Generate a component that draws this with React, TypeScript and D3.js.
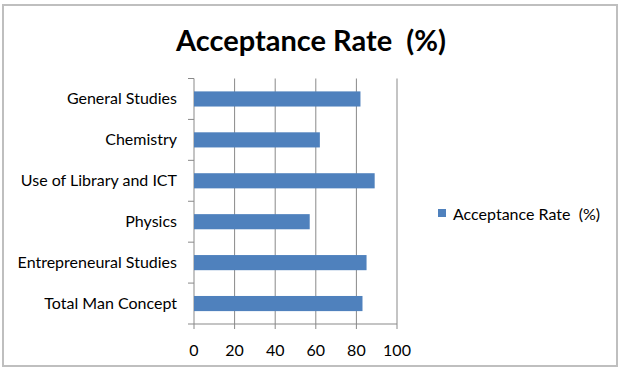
import * as d3 from 'd3';

const categories = [
  'General Studies',
  'Chemistry',
  'Use of Library and ICT',
  'Physics',
  'Entrepreneural Studies',
  'Total Man Concept',
];
const acceptanceRate = [82, 62, 89, 57, 85, 83];
const xTicks = [0, 20, 40, 60, 80, 100];
const seriesName = 'Acceptance Rate  (%)';

const width = 624;
const height = 370;
const margins = { top: 78.5, right: 227, bottom: 46, left: 194 };
const barColor = '#4f81bd';
const gridColor = '#898989';
const font = 'Lato, Carlito, Calibri, sans-serif';

const App = () => {
  const xScale = d3
    .scaleLinear()
    .domain([0, 100])
    .range([margins.left, width - margins.right]);
  const yScale = d3
    .scaleBand<string>()
    .domain(categories)
    .range([margins.top, height - margins.bottom])
    .paddingInner(0.63)
    .paddingOuter(0.315);
  const slot = d3
    .scaleBand<string>()
    .domain(categories)
    .range([margins.top, height - margins.bottom]);

  const plotBottom = height - margins.bottom;

  return (
    <svg
      width={width}
      height={height}
      viewBox={`0 0 ${width} ${height}`}
      style={{ position: 'absolute', left: 0, top: 0, background: '#fff' }}
    >
      <rect x={3} y={5} width={614} height={361} fill="#fff" stroke="#bfbfbf" strokeWidth={2} />
      <text
        x={311}
        y={51}
        textAnchor="middle"
        fontFamily={font}
        fontWeight="bold"
        fontSize={29}
        textLength={270}
        lengthAdjust="spacingAndGlyphs"
        fill="#000"
        style={{ whiteSpace: 'pre' }}
      >
        {seriesName}
      </text>

      {/* vertical gridlines */}
      {xTicks.map(t => (
        <line
          key={`g${t}`}
          x1={xScale(t)}
          x2={xScale(t)}
          y1={margins.top}
          y2={plotBottom + 5}
          stroke={gridColor}
          strokeWidth={1}
        />
      ))}
      {/* bottom axis */}
      <line x1={margins.left} x2={xScale(100)} y1={plotBottom} y2={plotBottom} stroke={gridColor} />
      {/* category axis ticks */}
      {categories.map(c => (
        <line
          key={`t${c}`}
          x1={margins.left - 6}
          x2={margins.left}
          y1={slot(c)!}
          y2={slot(c)!}
          stroke={gridColor}
        />
      ))}
      <line x1={margins.left - 6} x2={margins.left} y1={plotBottom} y2={plotBottom} stroke={gridColor} />

      {categories.map((c, i) => (
        <rect
          key={`b${c}`}
          x={margins.left}
          y={yScale(c)!}
          width={xScale(acceptanceRate[i]) - margins.left}
          height={yScale.bandwidth()}
          fill={barColor}
        />
      ))}

      {categories.map(c => (
        <text
          key={`l${c}`}
          x={177}
          y={slot(c)! + slot.bandwidth() / 2 - 1.5}
          textAnchor="end"
          dominantBaseline="central"
          fontFamily={font}
          fontSize={16}
          fill="#000"
        >
          {c}
        </text>
      ))}

      {xTicks.map(t => (
        <text
          key={`x${t}`}
          x={xScale(t)}
          y={349}
          textAnchor="middle"
          dominantBaseline="central"
          fontFamily={font}
          fontSize={16}
          fill="#000"
        >
          {t}
        </text>
      ))}

      {/* legend */}
      <rect x={438} y={209} width={8} height={8} fill={barColor} />
      <text
        x={453}
        y={213}
        dominantBaseline="central"
        fontFamily={font}
        fontSize={16}
        fill="#000"
        style={{ whiteSpace: 'pre' }}
      >
        {seriesName}
      </text>
    </svg>
  );
};

export default App;
